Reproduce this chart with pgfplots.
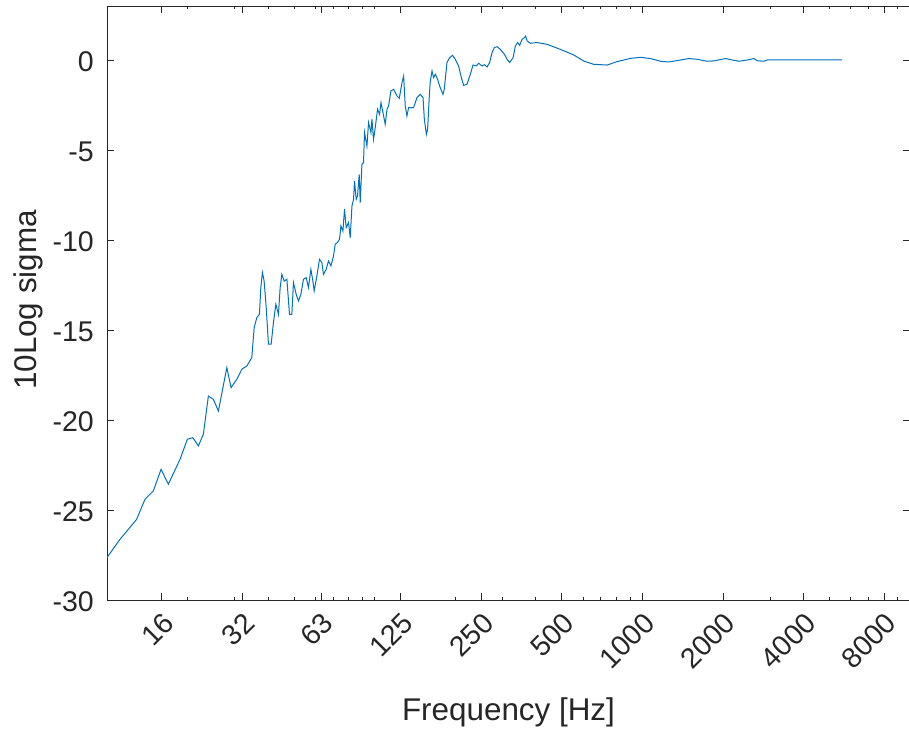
\documentclass[border=0pt]{standalone}
\usepackage{pgfplots}
\pgfplotsset{compat=1.18}
\usepackage{fontspec}
\setmainfont{Liberation Sans}
\definecolor{mblue}{rgb}{0,0.447,0.741}
\definecolor{axgray}{rgb}{0.15,0.15,0.15}
\begin{document}
\begin{tikzpicture}
\useasboundingbox (-107pt,-128pt) rectangle (802pt,600pt);
\begin{axis}[
  at={(0pt,0pt)}, anchor=south west,
  scale only axis, width=803pt, height=594pt,
  xmode=log, xmin=10, xmax=10000, ymin=-30, ymax=3,
  xtick={16,32,63,125,250,500,1000,2000,4000,8000},
  xticklabels={16,32,63,125,250,500,1000,2000,4000,8000},
  minor xtick={20,30,40,50,60,70,80,90,100,200,300,400,600,700,800,900,3000,5000,6000,7000,9000},
  ytick={-30,-25,-20,-15,-10,-5,0},
  yticklabels={-30,-25,-20,-15,-10,-5,0},
  major tick length=7pt, minor tick length=3.5pt,
  tick align=inside,
  axis line style={axgray, line width=0.8pt},
  tick style={axgray, line width=0.8pt},
  ticklabel style={font=\fontsize{28.5}{30}\selectfont, text=axgray},
  xticklabel style={rotate=45, anchor=north east, inner sep=0pt},
  xticklabel shift=11pt,
  yticklabel style={anchor=east, inner sep=0pt, yshift=-2pt},
  yticklabel shift=13pt,
  xlabel={Frequency [Hz]}, ylabel={10Log sigma},
  every axis x label/.style={at={([yshift=-120pt]axis description cs:0.5,0)}, anchor=base, font=\fontsize{31.4}{33}\selectfont, text=axgray},
  every axis y label/.style={at={([xshift=-71pt,yshift=3pt]axis description cs:0,0.5)}, anchor=base, rotate=90, font=\fontsize{31.4}{33}\selectfont, text=axgray},
]
\addplot[mblue, line width=1pt] table {
x y
10 -27.64
11.18 -26.63
12.9 -25.52
13.87 -24.4
14.9 -23.94
15.92 -22.74
16.95 -23.57
18.75 -22.18
19.97 -21.07
20.92 -20.98
21.95 -21.44
22.91 -20.79
23.92 -18.67
24.97 -18.85
26.07 -19.5
28.03 -17.09
29.08 -18.2
30.55 -17.74
31.89 -17.18
33.3 -17.0
34.76 -16.53
35.46 -14.87
36.29 -14.31
37.11 -14.13
37.56 -12.64
38.08 -11.81
38.64 -12.28
39.31 -13.67
40.11 -15.79
41.04 -15.79
41.86 -14.59
42.74 -13.57
43.71 -14.13
44.35 -12.64
45.0 -11.91
45.91 -12.28
46.99 -12.18
48.06 -14.13
49.05 -14.13
49.73 -12.37
50.91 -13.02
51.92 -13.39
53.0 -13.02
54.21 -12.18
55.48 -12.09
56.59 -12.64
57.77 -11.63
58.77 -12.28
59.43 -12.83
60.83 -12.0
62.21 -11.07
63.5 -11.26
64.39 -11.91
65.89 -11.63
67.22 -11.17
68.63 -11.44
70.18 -10.89
71.21 -10.24
72.64 -10.14
73.91 -9.96
74.81 -9.22
76.11 -9.5
77.17 -8.29
78.3 -9.31
79.86 -9.03
81.05 -9.87
82.24 -8.11
83.39 -7.74
84.09 -6.72
85.33 -7.74
86.28 -7.56
87.55 -6.35
88.32 -7.92
89.62 -5.79
90.87 -5.7
91.64 -4.03
93.57 -4.78
94.87 -3.48
96.86 -4.03
97.67 -3.29
99.03 -4.41
100.5 -3.76
102.5 -2.74
104.3 -3.02
105.6 -2.37
107.4 -2.92
109.5 -3.57
111.2 -2.74
112.7 -2.56
115.0 -1.72
117.7 -1.63
121.2 -2.0
123.6 -2.13
126.5 -1.26
128.3 -0.89
130.1 -2.56
132.0 -3.11
133.9 -2.64
139.8 -2.64
143.9 -2.09
148.1 -1.91
151.6 -2.09
153.3 -3.29
156.0 -4.13
157.7 -3.85
160.0 -2.0
161.4 -1.17
163.8 -0.61
166.0 -0.98
168.5 -0.79
171.8 -1.07
174.8 -1.44
180.0 -1.91
182.0 -1.63
186.3 -0.14
190.6 0.13
195.5 0.26
200.1 0.04
205.9 -0.33
210.8 -0.98
215.0 -1.41
221.3 -1.35
227.7 -0.79
233.1 -0.28
239.8 -0.33
244.6 -0.18
251.9 -0.33
257.6 -0.26
262.9 -0.39
268.9 -0.14
274.5 0.41
280.0 0.69
286.6 0.74
294.8 0.59
305.2 0.32
312.4 0.04
319.5 -0.14
329.0 0.13
335.5 0.78
342.2 0.97
348.2 0.82
355.4 1.15
362.5 1.24
366.5 1.33
371.1 1.06
381.8 0.93
404.5 0.97
440.8 0.87
494.2 0.59
554.4 0.28
604.2 -0.06
658.5 -0.24
738.7 -0.28
805.5 -0.09
903.1 0.09
984.3 0.15
1073 0.08
1169 -0.07
1256 -0.11
1389 0
1492 0.08
1603 0.04
1748 -0.07
1850 -0.05
2047 0.08
2136 0.02
2294 -0.07
2467 0
2612 0.08
2689 -0.04
2846 -0.07
2930 0
5560 0
};
\end{axis}
\end{tikzpicture}
\end{document}
